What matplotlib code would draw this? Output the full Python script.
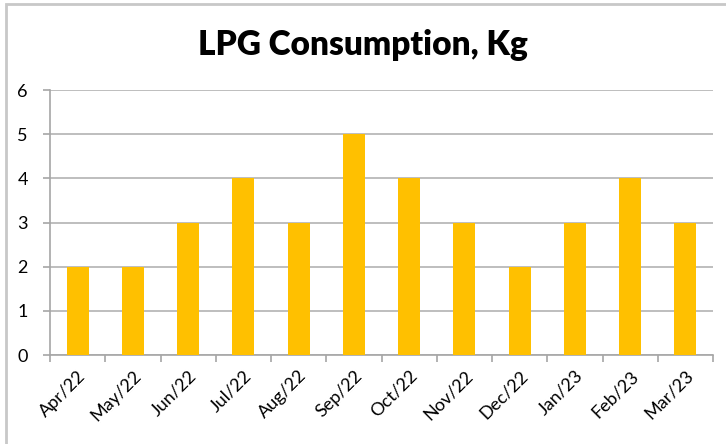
import matplotlib
matplotlib.use("Agg")
import matplotlib.pyplot as plt
from matplotlib.patches import Rectangle
import numpy as np

months = ["Apr/22", "May/22", "Jun/22", "Jul/22", "Aug/22", "Sep/22",
          "Oct/22", "Nov/22", "Dec/22", "Jan/23", "Feb/23", "Mar/23"]
lpg_kg = [2, 2, 3, 4, 3, 5, 4, 3, 2, 3, 4, 3]

plt.rcParams['font.family'] = ['Lato', 'DejaVu Sans']

fig = plt.figure(figsize=(7.26, 4.44), dpi=100)
ax = fig.add_axes([50 / 726, 1 - 355 / 444, 663 / 726, 265 / 444])

# light grey chart border (top and left only visible)
fig.patches.append(Rectangle((6 / 726, -0.1), 1.2, 1 - 4 / 444 + 0.1,
                             transform=fig.transFigure, fill=False,
                             edgecolor="#c8c8c8", linewidth=2))

x = np.arange(len(months))
ax.bar(x, lpg_kg, width=0.4, color="#FFC000", zorder=3)

ax.set_xlim(-0.5, len(months) - 0.5)
ax.set_ylim(0, 6)
ax.set_yticks(range(0, 7))
ax.yaxis.grid(True, color="#b3b3b3", linewidth=1.2, zorder=0)

ax.set_xticks(x)
ax.set_xticklabels(months, rotation=45, ha="right", rotation_mode="anchor",
                   fontsize=13)
ax.tick_params(axis="x", length=0, pad=9)
ax.set_xticks(np.arange(-0.5, len(months)), minor=True)
ax.tick_params(axis="x", which="minor", length=5, color="#a6a6a6", width=1.2)
ax.tick_params(axis="y", length=5, color="#a6a6a6", width=1.2, labelsize=13, pad=11)

for s in ["top", "right"]:
    ax.spines[s].set_visible(False)
for s in ["left", "bottom"]:
    ax.spines[s].set_color("#a6a6a6")
    ax.spines[s].set_linewidth(1.2)

fig.text(0.5, 1 - 45 / 444, "LPG Consumption, Kg", ha="center", va="center",
         fontsize=24, fontweight="heavy")

fig.savefig("out.png", dpi=100)
